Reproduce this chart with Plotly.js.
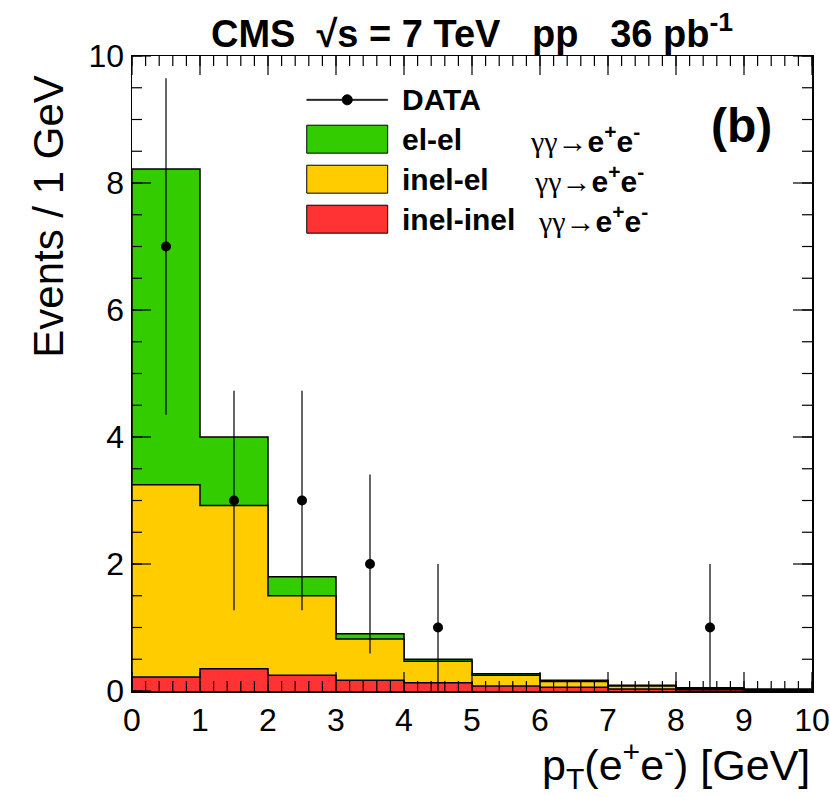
<!DOCTYPE html>
<html>
<head>
<meta charset="utf-8">
<script src="https://cdn.plot.ly/plotly-3.0.1.min.js"></script>
<style>body{margin:0;background:#fff}</style>
</head>
<body>
<div id="chart" style="width:830px;height:797px"></div>
<script>
// =========================
// DATA
// =========================
const binEdges = [0, 1, 2, 3, 4, 5, 6, 7, 8, 9, 10];
// stacked MC contributions per 1 GeV bin
const inelInel = [0.22, 0.35, 0.25, 0.17, 0.13, 0.08, 0.06, 0.03, 0.02, 0.01];
const inelEl   = [3.03, 2.57, 1.25, 0.65, 0.34, 0.17, 0.09, 0.05, 0.02, 0.01];
const elEl     = [4.97, 1.08, 0.30, 0.08, 0.03, 0.02, 0.02, 0.01, 0.01, 0.01];
// measured events
const dataX   = [0.5, 1.5, 2.5, 3.5, 4.5, 8.5];
const dataY   = [7, 3, 3, 2, 1, 1];
const dataErr = [2.65, 1.73, 1.73, 1.41, 1.0, 1.0];

const legendLabels = ["DATA", "el-el", "inel-el", "inel-inel"];
const colors = {elEl: "#33cc00", inelEl: "#ffcc00", inelInel: "#ff3333"};

const FONT = "Liberation Sans, Arial, Helvetica, sans-serif";
const X_RANGE = [0, 10], Y_RANGE = [0, 10];

// =========================
// HELPERS
// =========================
function addArrays(a, b) {
    return a.map((v, i) => v + b[i]);
}

// histogram outline as a filled step line
function stepTrace(vals, color) {
    let x = [binEdges[0]], y = [0];
    vals.forEach((v, i) => { x.push(binEdges[i]); y.push(v); });
    x.push(binEdges[binEdges.length - 1]); y.push(vals[vals.length - 1]);
    x.push(binEdges[binEdges.length - 1]); y.push(0);
    return {
        x: x, y: y, type: "scatter", mode: "lines",
        line: {shape: "hv", color: "black", width: 1.5},
        fill: "tozeroy", fillcolor: color,
        showlegend: false
    };
}

const stackRed = inelInel;
const stackYellow = addArrays(stackRed, inelEl);
const stackGreen = addArrays(stackYellow, elEl);

const traces = [
    stepTrace(stackGreen, colors.elEl),
    stepTrace(stackYellow, colors.inelEl),
    stepTrace(stackRed, colors.inelInel),
    {
        x: dataX, y: dataY, type: "scatter", mode: "markers",
        marker: {color: "black", size: 10},
        error_y: {type: "data", array: dataErr, color: "black", thickness: 1.2, width: 0},
        showlegend: false
    }
];

const shapes = [];
const annotations = [];

// =========================
// TICK MARKS (inside, on all four sides, placed on the axis scale)
// =========================
function addTicks(letter, range, step, len) {
    const n = Math.round((range[1] - range[0]) / step);
    for (let i = 0; i <= n; i++) {
        const v = range[0] + i * step;
        [0, 1].forEach(side => {
            const sgn = side === 0 ? 1 : -1;
            if (letter === "x") {
                shapes.push({type: "line", xref: "x", yref: "paper", ysizemode: "pixel",
                    yanchor: side, x0: v, x1: v, y0: 0, y1: sgn * len,
                    line: {color: "black", width: 1.2}});
            } else {
                shapes.push({type: "line", yref: "y", xref: "paper", xsizemode: "pixel",
                    xanchor: side, y0: v, y1: v, x0: 0, x1: sgn * len,
                    line: {color: "black", width: 1.2}});
            }
        });
    }
}
addTicks("x", X_RANGE, 1, 19);
addTicks("x", X_RANGE, 0.2, 10);
addTicks("y", Y_RANGE, 2, 19);
addTicks("y", Y_RANGE, 0.5, 10);

// =========================
// LEGEND (drawn in paper coordinates)
// =========================
const boxX0 = 0.257, boxX1 = 0.376, textX = 0.394;
const rowY = [0.931, 0.869, 0.806, 0.743];
const boxH = 0.022;

shapes.push({type: "rect", xref: "paper", yref: "paper", x0: boxX0, x1: boxX1,
    y0: rowY[0] - 0.0009, y1: rowY[0] + 0.0009,
    fillcolor: "black", line: {color: "black", width: 0.5}});
shapes.push({type: "circle", xref: "paper", yref: "paper",
    x0: (boxX0 + boxX1) / 2 - 0.0074, x1: (boxX0 + boxX1) / 2 + 0.0074,
    y0: rowY[0] - 0.0079, y1: rowY[0] + 0.0079,
    fillcolor: "black", line: {color: "black", width: 1}});

[colors.elEl, colors.inelEl, colors.inelInel].forEach((c, i) => {
    shapes.push({type: "rect", xref: "paper", yref: "paper", x0: boxX0, x1: boxX1,
        y0: rowY[i + 1] - boxH, y1: rowY[i + 1] + boxH,
        fillcolor: c, line: {color: "black", width: 1}});
});

const procX = [0.583, 0.588, 0.594];
legendLabels.forEach((lab, i) => {
    annotations.push({xref: "paper", yref: "paper", x: textX, y: rowY[i],
        xanchor: "left", yanchor: "middle", showarrow: false,
        text: "<b>" + lab + "</b>", font: {family: FONT, size: 30, color: "black"}});
    if (i > 0) {
        annotations.push({xref: "paper", yref: "paper", x: procX[i - 1], y: rowY[i],
            xanchor: "left", yanchor: "middle", showarrow: false,
            text: "<span style='font-family:Liberation Serif'>γγ→</span><b>e<sup>+</sup>e<sup>-</sup></b>",
            font: {family: FONT, size: 30, color: "black"}});
    }
});

// (b) label
annotations.push({xref: "paper", yref: "paper", x: 0.896, y: 0.89,
    xanchor: "center", yanchor: "middle", showarrow: false,
    text: "<b>(b)</b>", font: {family: FONT, size: 48, color: "black"}});

// axis titles
annotations.push({xref: "paper", yref: "paper", x: 1, y: -0.117,
    xanchor: "right", yanchor: "middle", showarrow: false,
    text: "p<sub>T</sub>(e<sup>+</sup>e<sup>-</sup>) [GeV]",
    font: {family: FONT, size: 43, color: "black"}});
annotations.push({xref: "paper", yref: "paper", x: -0.122, y: 0.747,
    xanchor: "center", yanchor: "middle", showarrow: false, textangle: -90,
    text: "Events / 1 GeV",
    font: {family: FONT, size: 42, color: "black"}});

// =========================
// LAYOUT
// =========================
function axisStyle(range, dtick) {
    return {
        range: range, dtick: dtick, ticks: "",
        showline: true, linewidth: 1.5, linecolor: "black", mirror: true,
        showgrid: false, zeroline: false, ticklabeloverflow: "allow",
        tickfont: {family: FONT, size: 32, color: "black"}
    };
}

const layout = {
    width: 830, height: 797,
    margin: {l: 132, r: 18, t: 56, b: 106},
    showlegend: false,
    title: {
        text: "<b>CMS  √s = 7 TeV   pp   36 pb<sup>-1</sup></b>",
        x: 0.5, xref: "paper", y: 0.958, yref: "container", yanchor: "middle",
        font: {family: FONT, size: 38, color: "black"}
    },
    xaxis: axisStyle(X_RANGE, 1),
    yaxis: axisStyle(Y_RANGE, 2),
    shapes: shapes,
    annotations: annotations
};

Plotly.newPlot("chart", traces, layout, {staticPlot: true});
</script>
</body>
</html>
